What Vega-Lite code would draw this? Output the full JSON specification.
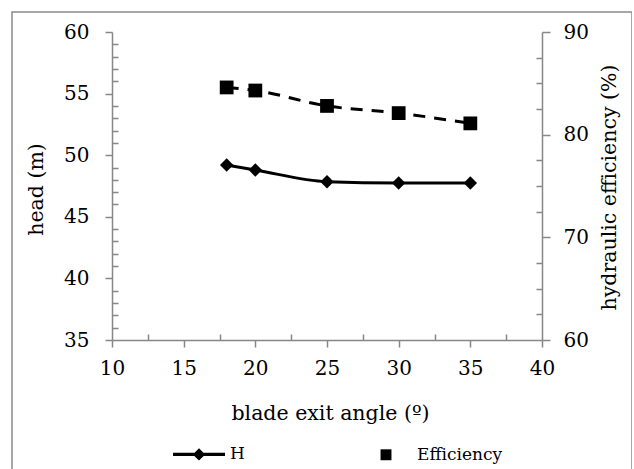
{
  "$schema": "https://vega.github.io/schema/vega-lite/v6.json",
  "width": 620,
  "height": 460,
  "autosize": {"type": "none"},
  "padding": {"left": 12, "top": 12, "right": 0, "bottom": 0},
  "background": "white",
  "config": {
    "view": {"stroke": "#8a8a8a", "strokeWidth": 1.5},
    "font": "DejaVu Serif",
    "axis": {
      "grid": false,
      "domainColor": "#878787",
      "domainWidth": 1.5,
      "tickColor": "#878787",
      "tickWidth": 1.5,
      "labelFont": "DejaVu Serif",
      "labelFontSize": 20,
      "labelColor": "black",
      "titleFont": "DejaVu Serif",
      "titleFontSize": 20.5,
      "titleFontWeight": "normal",
      "titleColor": "black",
      "labelFlush": false,
      "labelOverlap": false
    }
  },
  "data": {
    "values": [
      {"angle": 18, "series": "H", "value": 49.2},
      {"angle": 20, "series": "H", "value": 48.8},
      {"angle": 25, "series": "H", "value": 47.85},
      {"angle": 30, "series": "H", "value": 47.75},
      {"angle": 35, "series": "H", "value": 47.75},
      {"angle": 18, "series": "Efficiency", "value": 84.6},
      {"angle": 20, "series": "Efficiency", "value": 84.3},
      {"angle": 25, "series": "Efficiency", "value": 82.8},
      {"angle": 30, "series": "Efficiency", "value": 82.1},
      {"angle": 35, "series": "Efficiency", "value": 81.1}
    ]
  },
  "layer": [
    {
      "transform": [{"filter": "datum.series === 'H'"}],
      "encoding": {
        "x": {
          "field": "angle", "type": "quantitative",
          "scale": {"domain": [10, 40], "range": [100, 530], "nice": false, "zero": false},
          "axis": {
            "title": "blade exit angle (º)",
            "values": [10, 12.5, 15, 17.5, 20, 22.5, 25, 27.5, 30, 32.5, 35, 37.5, 40],
            "labelExpr": "datum.value % 5 === 0 ? datum.label : ''",
            "tickSize": {"condition": {"test": "datum.value % 5 === 0", "value": 7}, "value": -6},
            "offset": -132,
            "labelPadding": 11,
            "titleX": 318,
            "titleY": 73,
            "titleBaseline": "middle"
          }
        },
        "y": {
          "field": "value", "type": "quantitative",
          "scale": {"domain": [35, 60], "range": [328, 20], "nice": false, "zero": false},
          "axis": {
            "title": "head (m)",
            "orient": "left",
            "values": [35, 36, 37, 38, 39, 40, 41, 42, 43, 44, 45, 46, 47, 48, 49, 50, 51, 52, 53, 54, 55, 56, 57, 58, 59, 60],
            "labelExpr": "datum.value % 5 === 0 ? datum.label : ''",
            "tickSize": {"condition": {"test": "datum.value % 5 === 0", "value": 7}, "value": -6},
            "offset": -100,
            "labelPadding": 16,
            "titleX": -76,
            "titleY": 177,
            "titleAngle": -90,
            "titleBaseline": "middle"
          }
        }
      },
      "layer": [
        {"mark": {"type": "line", "color": "black", "strokeWidth": 3, "interpolate": "monotone"}},
        {"mark": {"type": "point", "filled": true, "color": "black", "size": 180, "opacity": 1, "shape": "diamond"}},
        {
          "mark": {"type": "point", "filled": true, "color": "black", "opacity": 0},
          "encoding": {
            "shape": {
              "field": "series", "type": "nominal",
              "scale": {
                "domain": ["H", "Efficiency"],
                "range": ["M-1,-0.067H1V0.067H-1ZM0,-0.24L0.24,0L0,0.24L-0.24,0Z", "M-0.21,-0.21H0.21V0.21H-0.21Z"]
              },
              "legend": {
                "title": null,
                "orient": "none",
                "legendX": 160,
                "legendY": 415,
                "direction": "horizontal",
                "columnPadding": 114,
                "symbolSize": 2704,
                "symbolOpacity": 1,
                "labelOffset": 4,
                "labelFont": "DejaVu Serif",
                "labelFontSize": 17,
                "labelColor": "black",
                "padding": 0,
                "encode": {
                  "symbols": {
                    "update": {
                      "opacity": {"value": 1}
                    }
                  }
                }
              }
            }
          }
        }
      ]
    },
    {
      "transform": [{"filter": "datum.series === 'Efficiency'"}],
      "encoding": {
        "x": {
          "field": "angle", "type": "quantitative",
          "scale": {"domain": [10, 40], "range": [100, 530], "nice": false, "zero": false},
          "axis": {
            "title": "blade exit angle (º)",
            "values": [10, 12.5, 15, 17.5, 20, 22.5, 25, 27.5, 30, 32.5, 35, 37.5, 40],
            "labelExpr": "datum.value % 5 === 0 ? datum.label : ''",
            "tickSize": {"condition": {"test": "datum.value % 5 === 0", "value": 7}, "value": -6},
            "offset": -132,
            "labelPadding": 11,
            "titleX": 318,
            "titleY": 73,
            "titleBaseline": "middle"
          }
        },
        "y": {
          "field": "value", "type": "quantitative",
          "scale": {"domain": [60, 90], "range": [328, 20], "nice": false, "zero": false},
          "axis": {
            "title": "hydraulic efficiency (%)",
            "orient": "right",
            "values": [60, 62.5, 65, 67.5, 70, 72.5, 75, 77.5, 80, 82.5, 85, 87.5, 90],
            "labelExpr": "datum.value % 10 === 0 ? datum.label : ''",
            "tickSize": {"condition": {"test": "datum.value % 10 === 0", "value": 8}, "value": -6},
            "offset": -90,
            "labelPadding": 13,
            "titleX": 67,
            "titleY": 175,
            "titleAngle": -90,
            "titleBaseline": "middle"
          }
        }
      },
      "layer": [
        {"mark": {"type": "line", "color": "black", "strokeWidth": 3, "strokeDash": [12, 9], "interpolate": "monotone"}},
        {"mark": {"type": "point", "filled": true, "color": "black", "size": 190, "opacity": 1, "shape": "square"}}
      ]
    }
  ],
  "resolve": {"scale": {"y": "independent"}}
}
